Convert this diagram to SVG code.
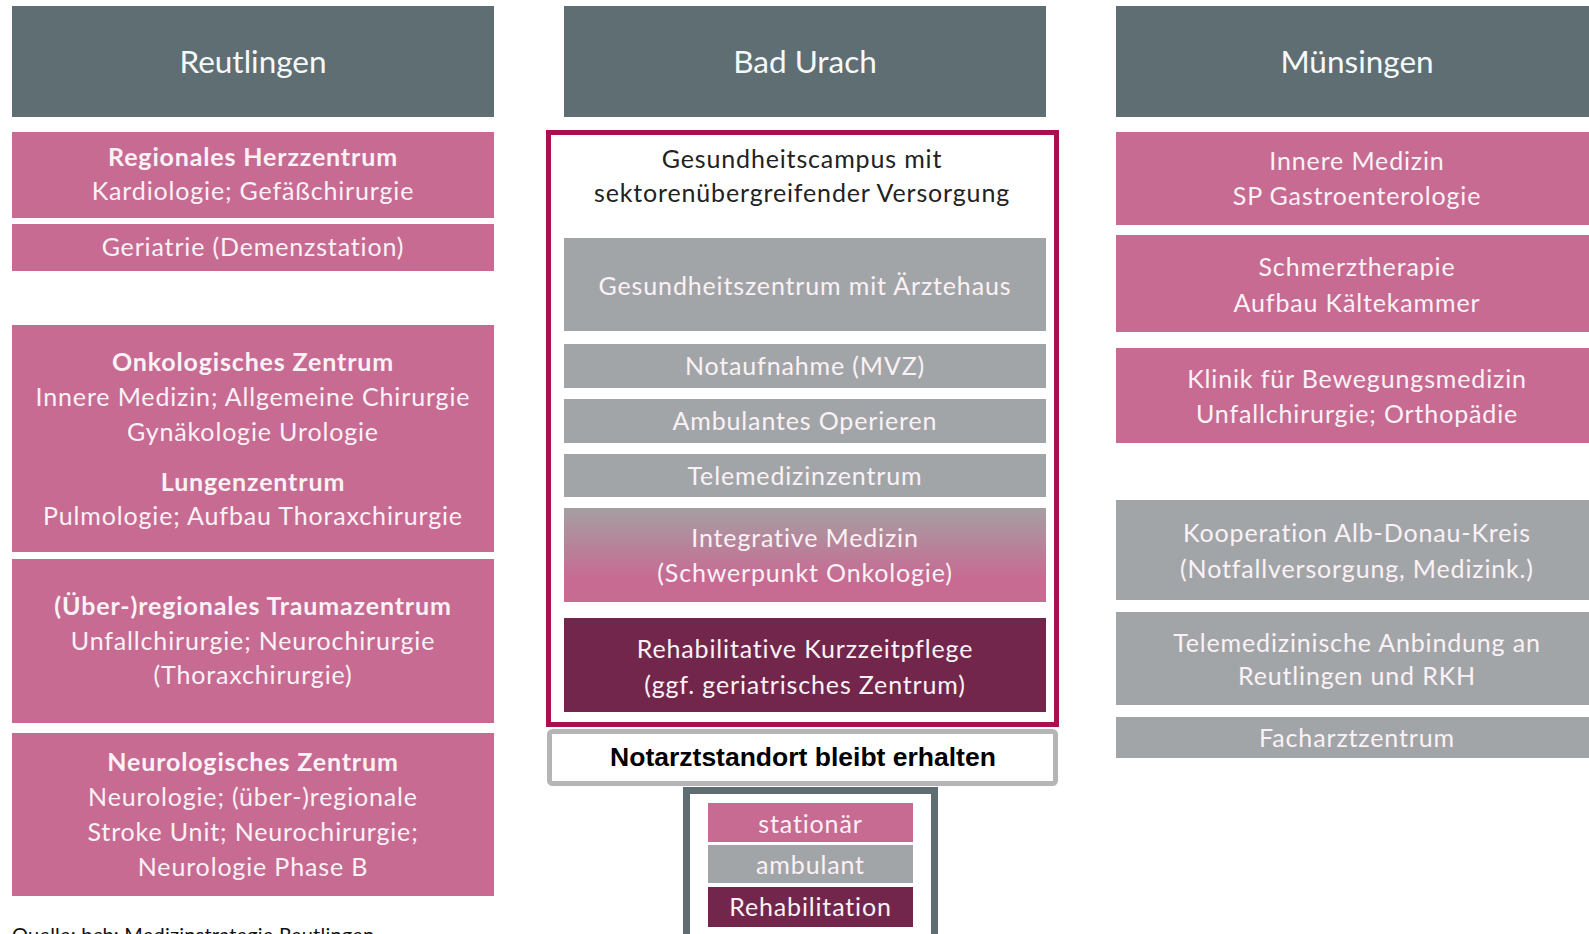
<svg xmlns="http://www.w3.org/2000/svg" width="1589" height="934" viewBox="0 0 1589 934">
<defs>
<linearGradient id="gInt" x1="0" y1="0" x2="0" y2="1">
<stop offset="0" stop-color="#A59FA2"/>
<stop offset="0.75" stop-color="#C76B93"/>
<stop offset="1" stop-color="#C76B93"/>
</linearGradient>
<style>
.hdr{fill:#5F6E72}
.pk{fill:#C76B93}
.gy{fill:#A2A5A8}
.dk{fill:#72264B}
text{font-family:Lato,"Open Sans","Liberation Sans",sans-serif;text-anchor:middle}
.ht{font-size:31.5px;fill:#F6F9F9}
.t{font-size:25px;letter-spacing:0.85px;fill:#FBF2F6}
.b{font-weight:bold}
.dt{font-size:25px;letter-spacing:0.85px;fill:#222222}
</style>
</defs>
<rect width="1589" height="934" fill="#FFFFFF"/>

<g id="col-reutlingen">
<g id="h-reutlingen"><rect class="hdr" x="12" y="6" width="482" height="111"/><text class="ht" x="253" y="73">Reutlingen</text></g>
<g id="n-herz"><rect class="pk" x="12" y="132" width="482" height="86"/>
<text class="t b" x="253" y="166">Regionales Herzzentrum</text>
<text class="t" x="253" y="200">Kardiologie; Gefäßchirurgie</text></g>
<g id="n-geriatrie"><rect class="pk" x="12" y="224" width="482" height="47"/>
<text class="t" x="253" y="256">Geriatrie (Demenzstation)</text></g>
<g id="n-onko"><rect class="pk" x="12" y="325" width="482" height="227"/>
<text class="t b" x="253" y="371">Onkologisches Zentrum</text>
<text class="t" x="253" y="406">Innere Medizin; Allgemeine Chirurgie</text>
<text class="t" x="253" y="441">Gynäkologie Urologie</text>
<text class="t b" x="253" y="491">Lungenzentrum</text>
<text class="t" x="253" y="525">Pulmologie; Aufbau Thoraxchirurgie</text></g>
<g id="n-trauma"><rect class="pk" x="12" y="559" width="482" height="164"/>
<text class="t b" x="253" y="615">(Über-)regionales Traumazentrum</text>
<text class="t" x="253" y="650">Unfallchirurgie; Neurochirurgie</text>
<text class="t" x="253" y="684">(Thoraxchirurgie)</text></g>
<g id="n-neuro"><rect class="pk" x="12" y="733" width="482" height="163"/>
<text class="t b" x="253" y="771">Neurologisches Zentrum</text>
<text class="t" x="253" y="806">Neurologie; (über-)regionale</text>
<text class="t" x="253" y="841">Stroke Unit; Neurochirurgie;</text>
<text class="t" x="253" y="876">Neurologie Phase B</text></g>
</g>

<g id="col-badurach">
<g id="h-badurach"><rect class="hdr" x="564" y="6" width="482" height="111"/><text class="ht" x="805" y="73">Bad Urach</text></g>
<g id="n-campus"><rect x="548.5" y="132.5" width="508" height="592" fill="none" stroke="#AC0F4F" stroke-width="5"/>
<text class="dt" x="802" y="168">Gesundheitscampus mit</text>
<text class="dt" x="802" y="202">sektorenübergreifender Versorgung</text></g>
<g id="n-gz"><rect class="gy" x="564" y="238" width="482" height="93"/>
<text class="t" x="805" y="295">Gesundheitszentrum mit Ärztehaus</text></g>
<g id="n-notaufnahme"><rect class="gy" x="564" y="344" width="482" height="44"/>
<text class="t" x="805" y="375">Notaufnahme (MVZ)</text></g>
<g id="n-ambop"><rect class="gy" x="564" y="399" width="482" height="44"/>
<text class="t" x="805" y="430">Ambulantes Operieren</text></g>
<g id="n-telemed"><rect class="gy" x="564" y="454" width="482" height="43"/>
<text class="t" x="805" y="485">Telemedizinzentrum</text></g>
<g id="n-integrativ"><rect x="564" y="508" width="482" height="94" fill="url(#gInt)"/>
<text class="t" x="805" y="547">Integrative Medizin</text>
<text class="t" x="805" y="582">(Schwerpunkt Onkologie)</text></g>
<g id="n-rehab"><rect class="dk" x="564" y="618" width="482" height="94"/>
<text class="t" x="805" y="658">Rehabilitative Kurzzeitpflege</text>
<text class="t" x="805" y="694">(ggf. geriatrisches Zentrum)</text></g>
<g id="n-notarzt"><rect x="549.5" y="731.5" width="506" height="52" rx="3" fill="#FFFFFF" stroke="#B5B5B5" stroke-width="5"/>
<text x="803" y="766" style="font-family:'Liberation Sans',Arial,sans-serif;font-weight:bold;font-size:26.5px;fill:#000000">Notarztstandort bleibt erhalten</text></g>
</g>

<g id="legend">
<rect x="686.5" y="790.5" width="248" height="200" fill="#FFFFFF" stroke="#5F6D71" stroke-width="7"/>
<g id="l-stationaer"><rect class="pk" x="708" y="803" width="205" height="39"/><text class="t" x="810.5" y="833">stationär</text></g>
<g id="l-ambulant"><rect class="gy" x="708" y="845" width="205" height="38"/><text class="t" x="810.5" y="874">ambulant</text></g>
<g id="l-rehab"><rect class="dk" x="708" y="887" width="205" height="40"/><text class="t" x="810.5" y="916">Rehabilitation</text></g>
</g>

<g id="col-muensingen">
<g id="h-muensingen"><rect class="hdr" x="1116" y="6" width="482" height="111"/><text class="ht" x="1357" y="73">Münsingen</text></g>
<g id="n-innere"><rect class="pk" x="1116" y="132" width="482" height="93"/>
<text class="t" x="1357" y="170">Innere Medizin</text>
<text class="t" x="1357" y="205">SP Gastroenterologie</text></g>
<g id="n-schmerz"><rect class="pk" x="1116" y="235" width="482" height="97"/>
<text class="t" x="1357" y="276">Schmerztherapie</text>
<text class="t" x="1357" y="312">Aufbau Kältekammer</text></g>
<g id="n-klinik"><rect class="pk" x="1116" y="348" width="482" height="95"/>
<text class="t" x="1357" y="388">Klinik für Bewegungsmedizin</text>
<text class="t" x="1357" y="423">Unfallchirurgie; Orthopädie</text></g>
<g id="n-koop"><rect class="gy" x="1116" y="500" width="482" height="100"/>
<text class="t" x="1357" y="542">Kooperation Alb-Donau-Kreis</text>
<text class="t" x="1357" y="578">(Notfallversorgung, Medizink.)</text></g>
<g id="n-teleanb"><rect class="gy" x="1116" y="612" width="482" height="93"/>
<text class="t" x="1357" y="652">Telemedizinische Anbindung an</text>
<text class="t" x="1357" y="685">Reutlingen und RKH</text></g>
<g id="n-facharzt"><rect class="gy" x="1116" y="717" width="482" height="41"/>
<text class="t" x="1357" y="747">Facharztzentrum</text></g>
</g>

<g id="connectors"/>

<text x="12" y="942" style="font-size:20px;letter-spacing:0.2px;fill:#111111;text-anchor:start">Quelle: bcb: Medizinstrategie Reutlingen</text>
</svg>
